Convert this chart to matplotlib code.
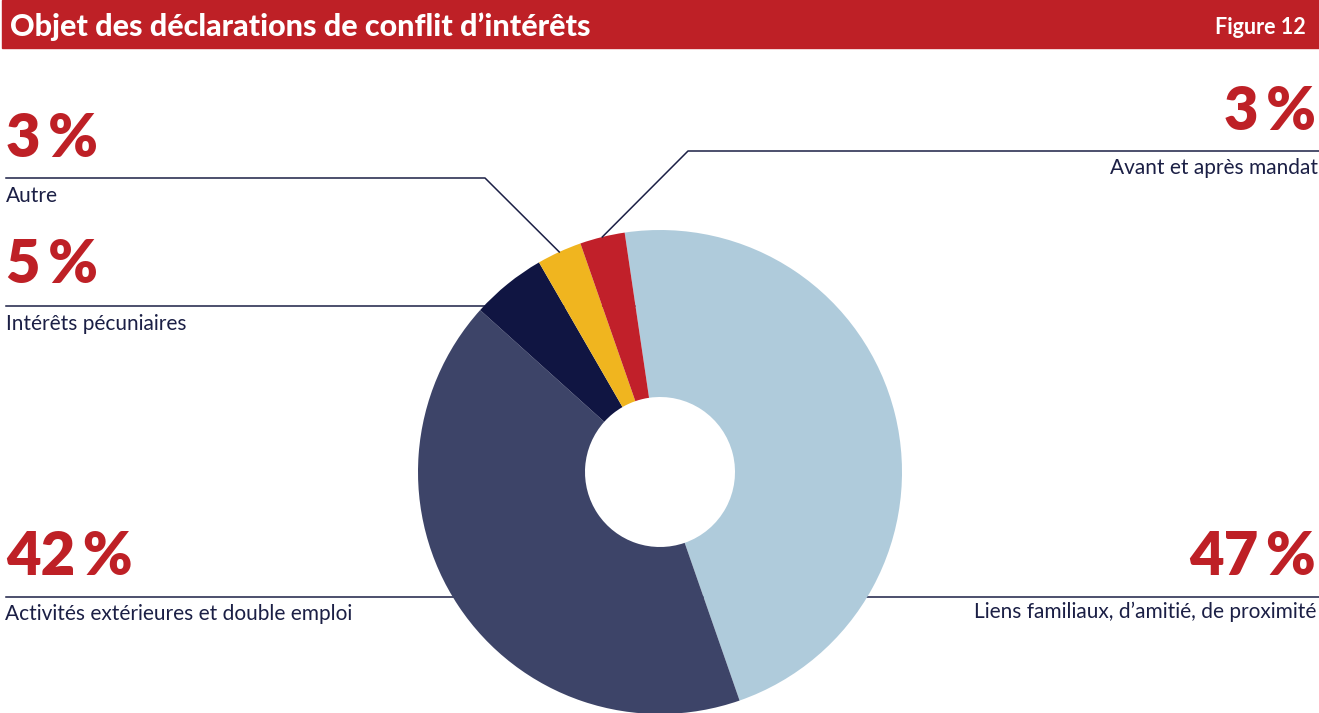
import numpy as np
import matplotlib.pyplot as plt

# data
categories = ["Liens familiaux, d\u2019amiti\u00e9, de proximit\u00e9",
              "Activit\u00e9s ext\u00e9rieures et double emploi",
              "Int\u00e9r\u00eats p\u00e9cuniaires",
              "Autre",
              "Avant et apr\u00e8s mandat"]
values = [47, 42, 5, 3, 3]
colors = ["#AFCBDB", "#3D4468", "#101542", "#F0B51F", "#C1202A"]

W, H = 1319, 713
RED = "#BE2026"
NAVY = "#1B1F45"
plt.rcParams['font.family'] = ['Lato', 'DejaVu Sans']

fig = plt.figure(figsize=(W / 100, H / 100), dpi=100)
ax = fig.add_axes([0, 0, 1, 1])

def Y(y):
    return H - y

cx, cy, r = 660, 472, 242
wedges, _ = ax.pie(values, colors=colors, startangle=98.4, counterclock=False,
                   radius=r, center=(cx, Y(cy)),
                   wedgeprops=dict(width=r - 75, linewidth=0), frame=True)
for w in wedges:
    w.set_zorder(3)

ax.set_xlim(0, W)
ax.set_ylim(0, H)
ax.set_aspect('equal')
ax.axis('off')

# title bar
ax.add_patch(plt.Rectangle((2, Y(48)), W - 2, 48, color=RED, zorder=5))
ax.text(10, Y(27), "Objet des d\u00e9clarations de conflit d\u2019int\u00e9r\u00eats",
        color="white", fontsize=22, fontweight='black', va='center', zorder=6)
ax.text(1306, Y(27), "Figure 12", color="white", fontsize=15.5,
        fontweight='bold', va='center', ha='right', zorder=6)

def edge_point(i):
    w = wedges[i]
    mid = np.deg2rad((w.theta1 + w.theta2) / 2)
    return cx + r * np.cos(mid), Y(cy) + r * np.sin(mid)

def pct(v):
    return f"{v}\u2009%"

lw = 1.1
big = dict(color=RED, fontsize=43, fontweight='heavy', va='baseline')
lab = dict(color=NAVY, fontsize=15, va='baseline')

# Liens familiaux (right bottom)
ax.plot([cx, W], [Y(597), Y(597)], color=NAVY, lw=lw, zorder=1)
ax.text(1316, Y(575), pct(values[0]), ha='right', **big)
ax.text(1316, Y(618), categories[0], ha='right', **lab)

# Activites (left bottom)
ax.plot([6, cx], [Y(597), Y(597)], color=NAVY, lw=lw, zorder=1)
ax.text(6, Y(575), pct(values[1]), ha='left', **big)
ax.text(5, Y(620), categories[1], ha='left', **lab)

# Interets pecuniaires
ax.plot([6, cx], [Y(306), Y(306)], color=NAVY, lw=lw, zorder=1)
ax.text(6, Y(283), pct(values[2]), ha='left', **big)
ax.text(6, Y(330), categories[2], ha='left', **lab)

# Autre
px, py = edge_point(3)
ax.plot([6, 485, px], [Y(178), Y(178), py], color=NAVY, lw=lw, zorder=4)
ax.text(6, Y(157), pct(values[3]), ha='left', **big)
ax.text(6, Y(202), categories[3], ha='left', **lab)

# Avant et apres mandat
px, py = edge_point(4)
ax.plot([px, 688, W], [py, Y(151), Y(151)], color=NAVY, lw=lw, zorder=4)
ax.text(1316, Y(130), pct(values[4]), ha='right', **big)
ax.text(1318, Y(174), categories[4], ha='right', **lab)

fig.savefig("out.png", dpi=100)
